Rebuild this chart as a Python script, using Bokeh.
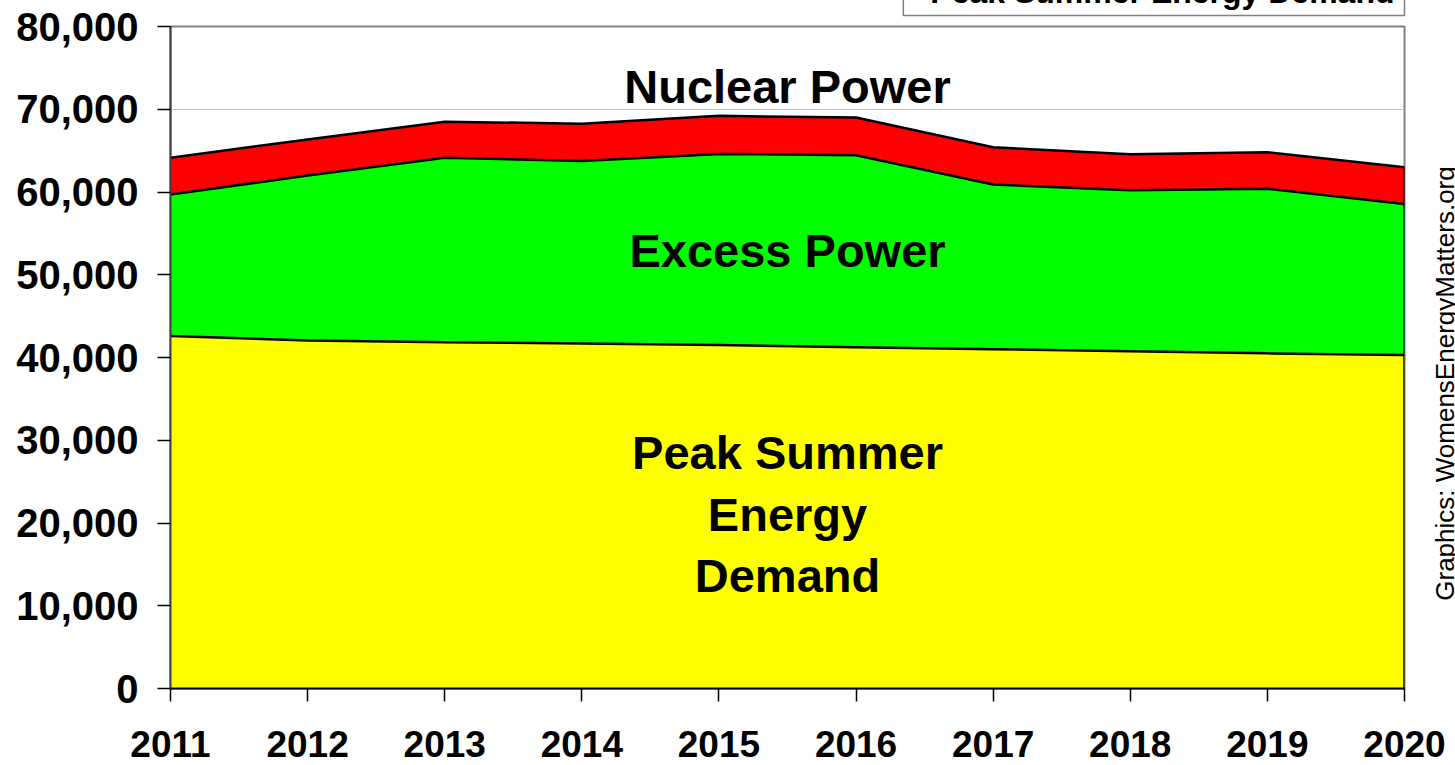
import numpy as np
from bokeh.plotting import figure
from bokeh.layouts import row
from bokeh.models import (ColumnDataSource, Range1d, NumeralTickFormatter, FixedTicker,
                          Label, Title)
from bokeh.embed import file_html
from bokeh.resources import INLINE

# ---- data ----
years = [2011, 2012, 2013, 2014, 2015, 2016, 2017, 2018, 2019, 2020]
demand = [42600, 42050, 41850, 41700, 41500, 41250, 41000, 40750, 40500, 40300]
excess = [17100, 19950, 22300, 22050, 23100, 23200, 19900, 19450, 19900, 18250]
nuclear = [4450, 4350, 4350, 4500, 4600, 4550, 4500, 4350, 4400, 4450]
y_ticks = [0, 10000, 20000, 30000, 40000, 50000, 60000, 70000, 80000]
series_names = ["Peak Summer Energy Demand", "Excess Power", "Nuclear Power"]
colors = ["#FFFF00", "#00FF00", "#FF0000"]
source_note = "Graphics: WomensEnergyMatters.org"

d = np.array(demand, dtype=float)
e = np.array(excess, dtype=float)
n = np.array(nuclear, dtype=float)
top1 = d
top2 = d + e
top3 = d + e + n

src = ColumnDataSource(dict(x=years, base=np.zeros(len(years)), t1=top1, t2=top2, t3=top3))

FONT = "Liberation Sans"

p = figure(frame_width=1234, frame_height=662, output_backend="svg", toolbar_location=None,
           x_range=Range1d(2011, 2020), y_range=Range1d(0, 80000),
           min_border_left=170, min_border_right=46, min_border_top=80, min_border_bottom=0)
p.background_fill_color = "white"
p.border_fill_color = "white"
p.outline_line_color = "#808080"
p.outline_line_width = 2

r_y = p.varea(x="x", y1="base", y2="t1", source=src, fill_color=colors[0])
r_g = p.varea(x="x", y1="t1", y2="t2", source=src, fill_color=colors[1])
r_r = p.varea(x="x", y1="t2", y2="t3", source=src, fill_color=colors[2])
for col in ["t1", "t2", "t3"]:
    p.line(x="x", y=col, source=src, line_color="black", line_width=2.5)
p.segment(x0=[years[-1]], y0=[0], x1=[years[-1]], y1=[top3[-1]], line_color="black", line_width=2.5)

# axes
p.xaxis.ticker = FixedTicker(ticks=years)
p.yaxis.ticker = FixedTicker(ticks=y_ticks)
p.yaxis.formatter = NumeralTickFormatter(format="0,0")
for ax in (p.xaxis, p.yaxis):
    ax.major_tick_out = 13
    ax.major_tick_in = 0
    ax.minor_tick_out = 0
    ax.minor_tick_in = 0
    ax.axis_line_color = "black"
    ax.axis_line_width = 2
    ax.major_tick_line_color = "black"
    ax.major_tick_line_width = 1.5
    ax.major_label_text_font = FONT
    ax.major_label_text_font_style = "bold"
    ax.major_label_text_color = "black"
p.yaxis.major_label_text_font_size = "40px"
p.yaxis.major_label_standoff = 19
p.yaxis.axis_line_color = "#404040"
p.xaxis.major_label_text_font_size = "37px"
p.xaxis.major_label_standoff = 29

p.xgrid.grid_line_color = None
p.ygrid.grid_line_color = "#c0c0c0"
p.ygrid.grid_line_width = 1
p.ygrid.ticker = FixedTicker(ticks=y_ticks)

# in-chart labels
def lab(txt, y):
    p.add_layout(Label(x=2015.5, y=y, text=txt, text_align="center", text_baseline="middle",
                       text_font=FONT, text_font_style="bold", text_font_size="47px",
                       text_color="black"))

lab("Nuclear Power", 72700)
lab("Excess Power", 52930)
lab("Peak Summer", 28520)
lab("Energy", 21030)
lab("Demand", 13660)

# legend box at the top (mostly cut off by the top of the page)
p.title = Title(text=series_names[0], align="right", text_font=FONT, text_font_style="bold",
                text_font_size="32px", text_color="black", standoff=22,
                padding=dict(left=27, right=10, top=6, bottom=6),
                border_line_color="#808080", border_line_width=1.5,
                background_fill_color="white")

# narrow transparent companion figure carrying the vertical source note (reads bottom to top)
p2 = figure(frame_width=1, frame_height=714, output_backend="svg", toolbar_location=None,
            x_range=Range1d(0, 1), y_range=Range1d(0, 1), x_axis_location=None,
            min_border_left=0, min_border_right=0, min_border_top=80, min_border_bottom=0)
p2.outline_line_color = None
p2.background_fill_alpha = 0
p2.border_fill_alpha = 0
p2.grid.visible = False
p2.yaxis.ticker = FixedTicker(ticks=[])
p2.yaxis.axis_line_color = None
p2.yaxis.major_tick_out = 0
p2.yaxis.major_tick_in = 0
p2.yaxis.minor_tick_out = 0
p2.yaxis.minor_tick_in = 0
p2.yaxis.major_label_standoff = 0
p2.yaxis.axis_label = source_note
p2.yaxis.axis_label_standoff = 0
p2.yaxis.axis_label_text_font = FONT
p2.yaxis.axis_label_text_font_style = "normal"
p2.yaxis.axis_label_text_font_size = "26px"
p2.yaxis.axis_label_text_color = "black"
p2.styles = {"margin-left": "-24px"}

layout = row(p, p2, spacing=0)
layout.styles = {"margin-top": "-54px"}

open("out.html", "w").write(file_html(layout, INLINE))
